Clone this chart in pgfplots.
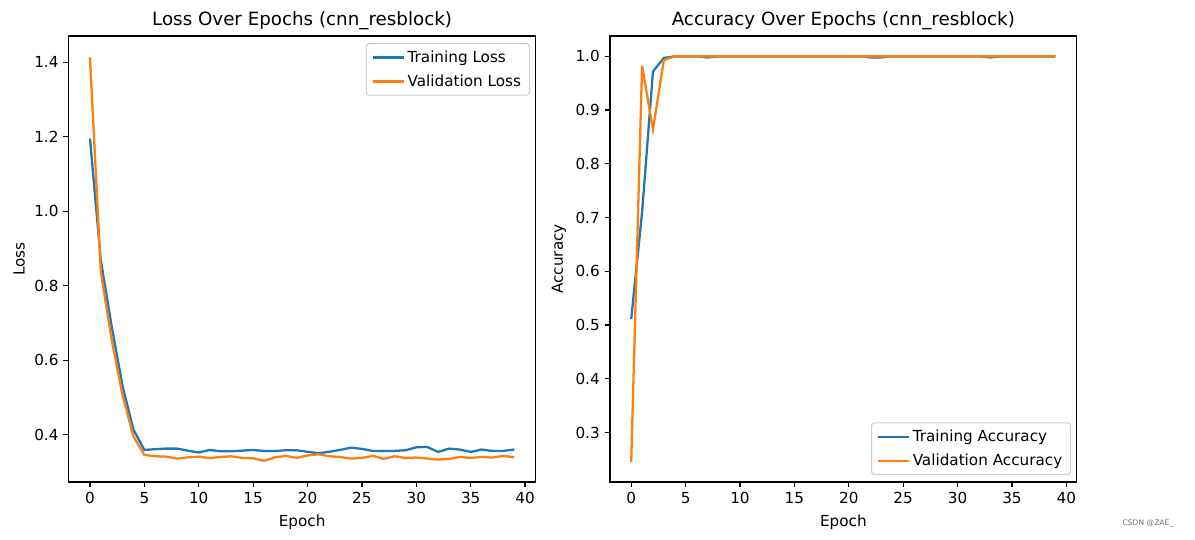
\documentclass[border=0pt]{standalone}
\usepackage{fontspec}
\setmainfont{DejaVu Sans}
\usepackage{pgfplots}
\pgfplotsset{compat=1.18}
\definecolor{cA}{HTML}{1F77B4}
\definecolor{cB}{HTML}{FF7F0E}
\pgfplotsset{
  mpl/.style={
    scale only axis,
    width=336bp, height=321bp,
    xmin=-1.95, xmax=40.95,
    xtick={0,5,...,40},
    xtick pos=bottom, ytick pos=left,
    tick align=outside,
    major tick length=3.85bp,
    tick style={black, line width=0.88bp},
    axis line style={line width=0.88bp},
    every tick label/.style={font=\fontsize{11}{13}\selectfont},
    label style={font=\fontsize{11}{13}\selectfont},
    xlabel style={yshift=-1bp},
    title style={font=\fontsize{13.2}{15}\selectfont, yshift=-5bp},
    /pgf/number format/assume math mode=true,
    xticklabel style={/pgf/number format/fixed},
    yticklabel style={/pgf/number format/fixed, /pgf/number format/fixed zerofill, /pgf/number format/precision=1},
    xlabel={Epoch},
    legend cell align=left,
    legend style={font=\fontsize{11}{13}\selectfont, draw=black!20, rounded corners=2bp, inner xsep=4bp, inner ysep=3bp, row sep=3.5bp, line width=0.8bp},
    legend image code/.code={\draw[#1, line width=1.65bp] (0bp,0bp) -- (22bp,0bp);},
  }
}
\begin{document}
\begin{tikzpicture}
\useasboundingbox (0,0) rectangle (860.4bp,388.8bp);
\begin{axis}[mpl, at={(49.5bp,41.8bp)}, anchor=south west,
  ymin=0.273, ymax=1.47,
  ytick={0.4,0.6,0.8,1.0,1.2,1.4},
  ylabel={Loss},
  title={Loss Over Epochs (cnn\_resblock)},
  legend style={at={(1,1)}, anchor=north east, xshift=-4bp, yshift=-5bp}]
\addplot[cA, line width=1.65bp] coordinates {
(0,1.195)(1,0.868)(2,0.69)(3,0.53)(4,0.413)(5,0.359)(6,0.361)(7,0.3625)(8,0.3625)(9,0.357)
(10,0.352)(11,0.359)(12,0.3555)(13,0.3555)(14,0.357)(15,0.359)(16,0.356)(17,0.356)(18,0.358)(19,0.358)
(20,0.354)(21,0.350)(22,0.354)(23,0.359)(24,0.365)(25,0.3617)(26,0.3563)(27,0.3563)(28,0.3563)(29,0.358)
(30,0.366)(31,0.367)(32,0.3536)(33,0.3625)(34,0.360)(35,0.3536)(36,0.360)(37,0.3563)(38,0.3563)(39,0.360)};
\addlegendentry{Training Loss}
\addplot[cB, line width=1.65bp] coordinates {
(0,1.413)(1,0.837)(2,0.654)(3,0.505)(4,0.395)(5,0.3456)(6,0.342)(7,0.341)(8,0.3357)(9,0.339)
(10,0.341)(11,0.3367)(12,0.340)(13,0.342)(14,0.3375)(15,0.3367)(16,0.3295)(17,0.339)(18,0.343)(19,0.3375)
(20,0.344)(21,0.3474)(22,0.342)(23,0.340)(24,0.3357)(25,0.3375)(26,0.343)(27,0.335)(28,0.342)(29,0.3375)
(30,0.3385)(31,0.3357)(32,0.333)(33,0.335)(34,0.340)(35,0.3375)(36,0.340)(37,0.3385)(38,0.343)(39,0.339)};
\addlegendentry{Validation Loss}
\end{axis}
\begin{axis}[mpl, at={(439.2bp,41.8bp)}, anchor=south west,
  ymin=0.208, ymax=1.0377,
  ytick={0.3,0.4,0.5,0.6,0.7,0.8,0.9,1.0},
  ylabel={Accuracy},
  title={Accuracy Over Epochs (cnn\_resblock)},
  legend style={at={(1,0)}, anchor=south east, xshift=-4bp, yshift=5bp}]
\addplot[cA, line width=1.65bp] coordinates {
(0,0.511)(1,0.71)(2,0.972)(3,0.997)(4,1.0)(5,1.0)(6,1.0)(7,0.998)(8,1.0)(9,1.0)
(10,1.0)(11,1.0)(12,1.0)(13,1.0)(14,1.0)(15,1.0)(16,1.0)(17,1.0)(18,1.0)(19,1.0)
(20,1.0)(21,1.0)(22,0.998)(23,0.998)(24,1.0)(25,1.0)(26,1.0)(27,1.0)(28,1.0)(29,1.0)
(30,1.0)(31,1.0)(32,1.0)(33,0.998)(34,1.0)(35,1.0)(36,1.0)(37,1.0)(38,1.0)(39,1.0)};
\addlegendentry{Training Accuracy}
\addplot[cB, line width=1.65bp] coordinates {
(0,0.2455)(1,0.9825)(2,0.864)(3,0.993)(4,1.0)(5,1.0)(6,1.0)(7,1.0)(8,1.0)(9,1.0)
(10,1.0)(11,1.0)(12,1.0)(13,1.0)(14,1.0)(15,1.0)(16,1.0)(17,1.0)(18,1.0)(19,1.0)
(20,1.0)(21,1.0)(22,1.0)(23,1.0)(24,1.0)(25,1.0)(26,1.0)(27,1.0)(28,1.0)(29,1.0)
(30,1.0)(31,1.0)(32,1.0)(33,1.0)(34,1.0)(35,1.0)(36,1.0)(37,1.0)(38,1.0)(39,1.0)};
\addlegendentry{Validation Accuracy}
\end{axis}
\node[anchor=center, text=black!55, font=\fontsize{5.5}{6}\selectfont] at (826.5bp,11.5bp) {CSDN @ZAE\_};
\end{tikzpicture}
\end{document}
